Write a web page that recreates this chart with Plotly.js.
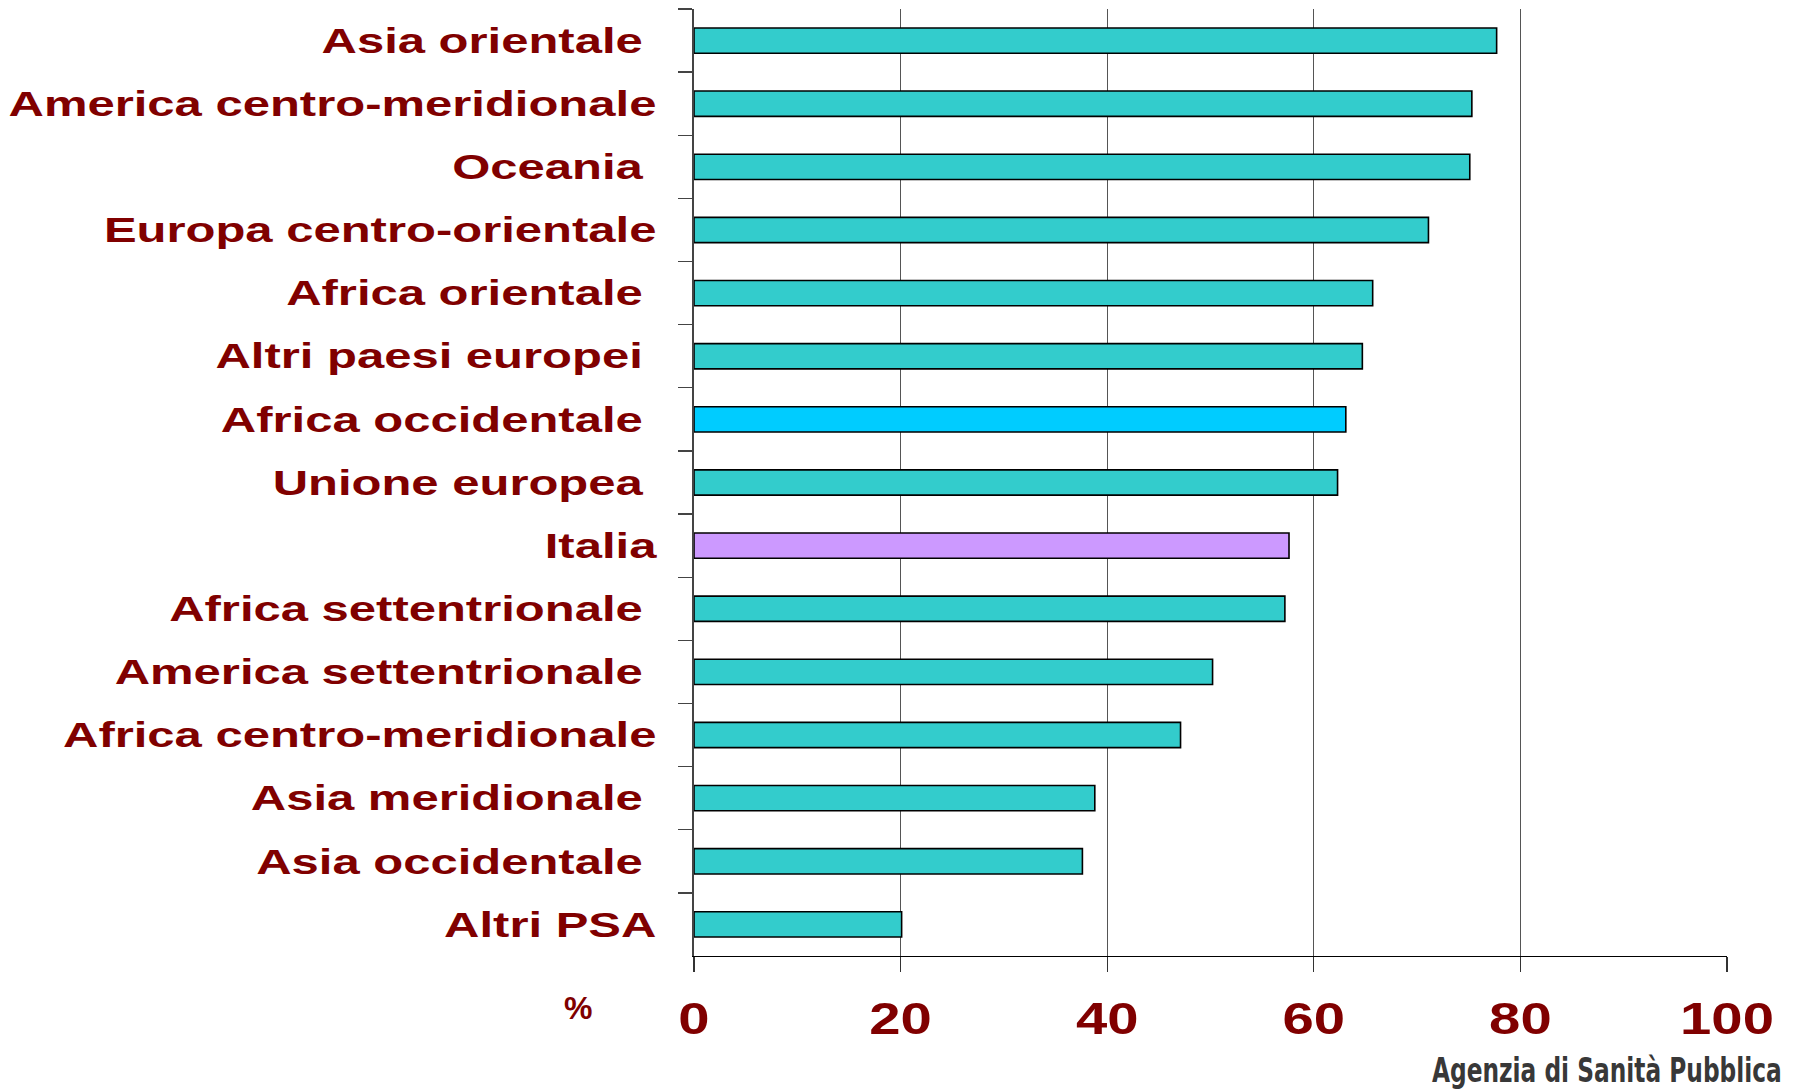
<!DOCTYPE html>
<html>
<head>
<meta charset="utf-8">
<script src="https://cdn.plot.ly/plotly-3.0.1.min.js"></script>
<style>
html, body { margin: 0; padding: 0; background: #fff; }
#chart { width: 1800px; height: 1089px; }
</style>
</head>
<body>
<div id="chart"></div>
<script>
// Categories (top to bottom); trailing spaces as in the original labels
const categories = [
  "Asia orientale\u00a0",
  "America centro-meridionale",
  "Oceania\u00a0",
  "Europa centro-orientale",
  "Africa orientale\u00a0",
  "Altri paesi europei\u00a0",
  "Africa occidentale\u00a0",
  "Unione europea\u00a0",
  "Italia",
  "Africa settentrionale\u00a0",
  "America settentrionale\u00a0",
  "Africa centro-meridionale",
  "Asia meridionale\u00a0",
  "Asia occidentale\u00a0",
  "Altri PSA"
];
const values = [77.7, 75.3, 75.1, 71.1, 65.7, 64.7, 63.1, 62.3, 57.6, 57.2, 50.2, 47.1, 38.8, 37.6, 20.1];
const barColors = ["#33CCCC", "#33CCCC", "#33CCCC", "#33CCCC", "#33CCCC", "#33CCCC", "#00CCFF", "#33CCCC",
                   "#CC99FF", "#33CCCC", "#33CCCC", "#33CCCC", "#33CCCC", "#33CCCC", "#33CCCC"];
const xTickVals = [0, 20, 40, 60, 80, 100];
const xTickText = ["0", "20", "40", "60", "80", "100"];
const unitLabel = "%";
const sourceLabel = "Agenzia di Sanità Pubblica";

const labelFont = { family: "Liberation Sans, Arial, sans-serif", size: 35, color: "#800000", weight: 700 };

const trace = {
  type: "bar",
  orientation: "h",
  x: values,
  y: categories,
  width: 0.4,
  marker: { color: barColors, line: { color: "#000000", width: 1.6 } },
  hoverinfo: "x+y"
};

const layout = {
  width: 1800,
  height: 1089,
  margin: { l: 694, r: 73, t: 9, b: 133 },
  paper_bgcolor: "#ffffff",
  plot_bgcolor: "#ffffff",
  showlegend: false,
  bargap: 0.6,
  xaxis: {
    range: [0, 100],
    tickvals: xTickVals,
    ticktext: xTickText,
    showgrid: true,
    gridcolor: "#555555",
    gridwidth: 1.3,
    zeroline: false,
    showline: true,
    linecolor: "#000000",
    linewidth: 1.3,
    ticks: "outside",
    ticklen: 15,
    tickwidth: 1.3,
    tickcolor: "#333333",
    tickfont: { family: "Liberation Sans, Arial, sans-serif", size: 45, color: "#800000", weight: 700 },
    ticklabelstandoff: 8,
    fixedrange: true
  },
  yaxis: {
    type: "category",
    autorange: "reversed",
    tickson: "boundaries",
    ticks: "outside",
    ticklen: 14,
    tickwidth: 1.3,
    tickcolor: "#444444",
    showline: true,
    linecolor: "#444444",
    linewidth: 1.6,
    showgrid: false,
    zeroline: false,
    tickfont: labelFont,
    ticklabelstandoff: 29,
    fixedrange: true
  },
  annotations: [
    {
      text: unitLabel, xref: "paper", yref: "paper", x: -0.112, y: -0.055,
      xanchor: "center", yanchor: "middle", showarrow: false,
      font: { family: "Liberation Sans, Arial, sans-serif", size: 32, color: "#800000", weight: 700 }
    },
    {
      text: sourceLabel, xref: "paper", yref: "paper", x: 0.884, y: -0.121,
      xanchor: "center", yanchor: "middle", showarrow: false,
      font: { family: "Liberation Sans Narrow, DejaVu Sans Condensed, Arial Narrow, sans-serif", size: 33, color: "#383838", weight: 700 }
    }
  ]
};

function stretch(sel, k) {
  document.querySelectorAll(sel).forEach(function (t) {
    const x = parseFloat(t.getAttribute("x")) || 0;
    const tr = t.getAttribute("transform") || "";
    t.setAttribute("transform", tr + " translate(" + x + ",0) scale(" + k + ",1) translate(" + (-x) + ",0)");
  });
}

Plotly.newPlot("chart", [trace], layout, { displayModeBar: false, staticPlot: true }).then(function () {
  stretch("#chart .ytick text", 1.4);
  stretch("#chart .xtick text", 1.25);
  document.querySelectorAll("#chart .annotation-text").forEach(function (t) {
    if (t.textContent === sourceLabel) {
      const x = parseFloat(t.getAttribute("x")) || 0;
      const w = t.getBBox().width;
      const k = 350 / w;
      const tr = t.getAttribute("transform") || "";
      t.setAttribute("transform", tr + " translate(" + x + ",0) scale(" + k + ",1) translate(" + (-x) + ",0)");
    }
  });
});
</script>
</body>
</html>
